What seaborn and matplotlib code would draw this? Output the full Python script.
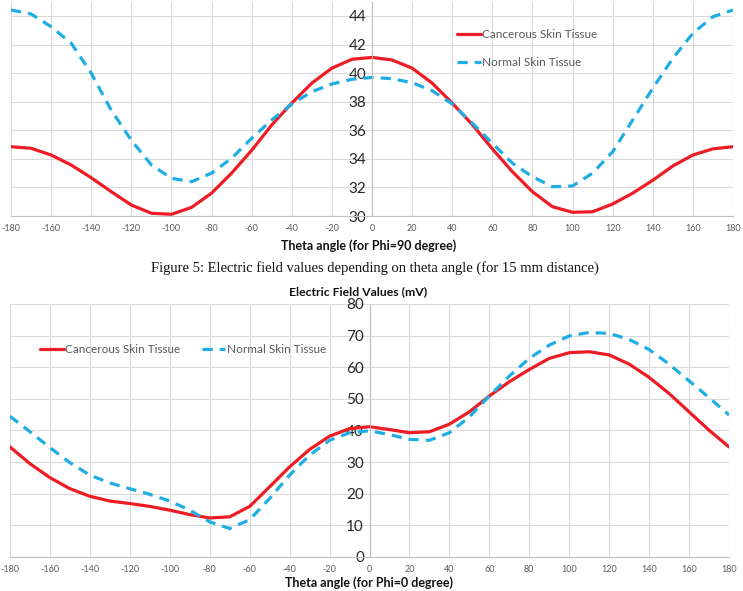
import numpy as np
import pandas as pd
import matplotlib
matplotlib.use("Agg")
import matplotlib.pyplot as plt
import seaborn as sns

# ---------------- data ----------------
theta = list(range(-180, 181, 10))

cancer_phi90 = [34.85, 34.74, 34.27, 33.57, 32.68, 31.7, 30.77, 30.19, 30.12, 30.6,
                31.6, 33.0, 34.6, 36.37, 37.9, 39.3, 40.35, 40.97, 41.1,
                40.92, 40.35, 39.3, 37.9, 36.4, 34.7, 33.1, 31.7, 30.65, 30.26,
                30.3, 30.84, 31.6, 32.5, 33.5, 34.27, 34.7, 34.85]
normal_phi90 = [44.42, 44.14, 43.25, 42.1, 40.0, 37.4, 35.3, 33.57, 32.64, 32.4,
                33.0, 34.04, 35.44, 36.72, 37.84, 38.7, 39.24, 39.57, 39.7,
                39.61, 39.33, 38.77, 37.84, 36.5, 35.09, 33.7, 32.75, 32.05, 32.1,
                33.0, 34.5, 36.72, 38.94, 41.04, 42.79, 43.95, 44.42]

cancer_phi0 = [34.8, 29.5, 25.1, 21.6, 19.2, 17.7, 16.9, 16.0, 14.8, 13.4,
               12.35, 12.7, 16.0, 22.2, 28.5, 34.0, 38.2, 40.6, 41.2,
               40.3, 39.3, 39.6, 42.0, 45.9, 50.9, 55.4, 59.3, 62.8, 64.6,
               64.9, 63.9, 61.0, 56.8, 51.7, 45.9, 40.1, 34.8]
normal_phi0 = [44.5, 39.6, 34.6, 29.8, 25.9, 23.4, 21.6, 19.8, 17.7, 14.8,
               11.1, 9.0, 11.8, 18.5, 25.9, 32.2, 36.9, 39.3, 39.9,
               38.7, 37.2, 36.9, 39.3, 44.3, 50.9, 57.2, 62.8, 67.0, 69.9,
               71.0, 70.7, 68.8, 65.6, 61.0, 55.7, 50.4, 44.9]

series_names = ["Cancerous Skin Tissue", "Normal Skin Tissue"]
x_ticks = list(range(-180, 181, 20))
y_ticks_top = list(range(30, 45, 2))
y_ticks_bottom = list(range(0, 81, 10))

caption = "Figure 5: Electric field values depending on theta angle (for 15 mm distance)"
title_bottom = "Electric Field Values (mV)"
xlabel_top = "Theta angle (for Phi=90 degree)"
xlabel_bottom = "Theta angle (for Phi=0 degree)"

# ---------------- style ----------------
sns.set_theme(style="white")
plt.rcParams["font.family"] = ["Lato", "DejaVu Sans"]

RED = "#EE1C24"
BLUE = "#1FAEE3"
GRID = "#D9D9D9"
TICK = "#595959"

W, H = 743, 591
fig = plt.figure(figsize=(W / 100, H / 100), dpi=100)


def px_axes(left, right, top, bottom):
    return fig.add_axes([left / W, (H - bottom) / H, (right - left) / W, (bottom - top) / H])


def style_axes(ax, ylim, yticks):
    ax.set_xlim(-180, 180)
    ax.set_ylim(*ylim)
    ax.set_xticks(x_ticks)
    ax.set_yticks(yticks)
    ax.set_xticklabels([str(v) for v in x_ticks], fontsize=6.5, color=TICK)
    ax.set_yticklabels([str(v) for v in yticks], fontsize=9, color=TICK)
    ax.grid(True, color=GRID, lw=0.8)
    ax.set_axisbelow(True)
    for s in ["top", "right"]:
        ax.spines[s].set_visible(False)
    ax.spines["left"].set_position(("data", 0))
    ax.spines["left"].set_color("#BFBFBF")
    ax.spines["left"].set_linewidth(0.8)
    ax.spines["bottom"].set_color("#BFBFBF")
    ax.spines["bottom"].set_linewidth(0.8)
    ax.tick_params(axis="both", length=0)
    ax.tick_params(axis="y", pad=4)
    ax.tick_params(axis="x", pad=6)
    ax.set_xlabel("")
    ax.set_ylabel("")


def draw(ax, cancer, normal):
    sns.lineplot(x=theta, y=cancer, ax=ax, color=RED, lw=2.3, label=series_names[0])
    sns.lineplot(x=theta, y=normal, ax=ax, color=BLUE, lw=2.3, label=series_names[1],
                 dashes=False)
    ax.lines[1].set_dashes([3.2, 2.2])


# ---------------- top chart ----------------
ax1 = px_axes(11, 733, 1.7, 216)
draw(ax1, cancer_phi90, normal_phi90)
style_axes(ax1, (30, 45), y_ticks_top)
leg1 = ax1.legend(loc="center left", bbox_to_anchor=((457 - 11) / 722, (216 - 48.5) / 214.3),
                  frameon=False, fontsize=8.5, handlelength=2.0, handletextpad=0.15,
                  labelspacing=1.5, borderpad=0, borderaxespad=0)
for t in leg1.get_texts():
    t.set_color(TICK)

fig.text(369 / W, 1 - 246 / H, xlabel_top, ha="center", va="center",
         fontsize=9, fontweight="bold", color="#111111")

fig.text(375 / W, 1 - 268 / H, caption, ha="center", va="center", fontsize=10.5,
         family=["Liberation Serif", "DejaVu Serif"], color="#111111")

fig.text(358 / W, 1 - 292 / H, title_bottom, ha="center", va="center",
         fontsize=8.8, fontweight="bold", color="#111111")

# ---------------- bottom chart ----------------
ax2 = px_axes(10, 729, 304, 557)
draw(ax2, cancer_phi0, normal_phi0)
style_axes(ax2, (0, 80), y_ticks_bottom)
leg2 = ax2.legend(loc="center left", bbox_to_anchor=((40 - 10) / 719, (557 - 350) / 253),
                  frameon=False, fontsize=8.5, handlelength=2.0, handletextpad=0.15,
                  ncol=2, columnspacing=1.8, borderpad=0, borderaxespad=0)
for t in leg2.get_texts():
    t.set_color(TICK)

fig.text(369 / W, 1 - 583 / H, xlabel_bottom, ha="center", va="center",
         fontsize=9, fontweight="bold", color="#111111")

fig.savefig("out.png", dpi=100)
